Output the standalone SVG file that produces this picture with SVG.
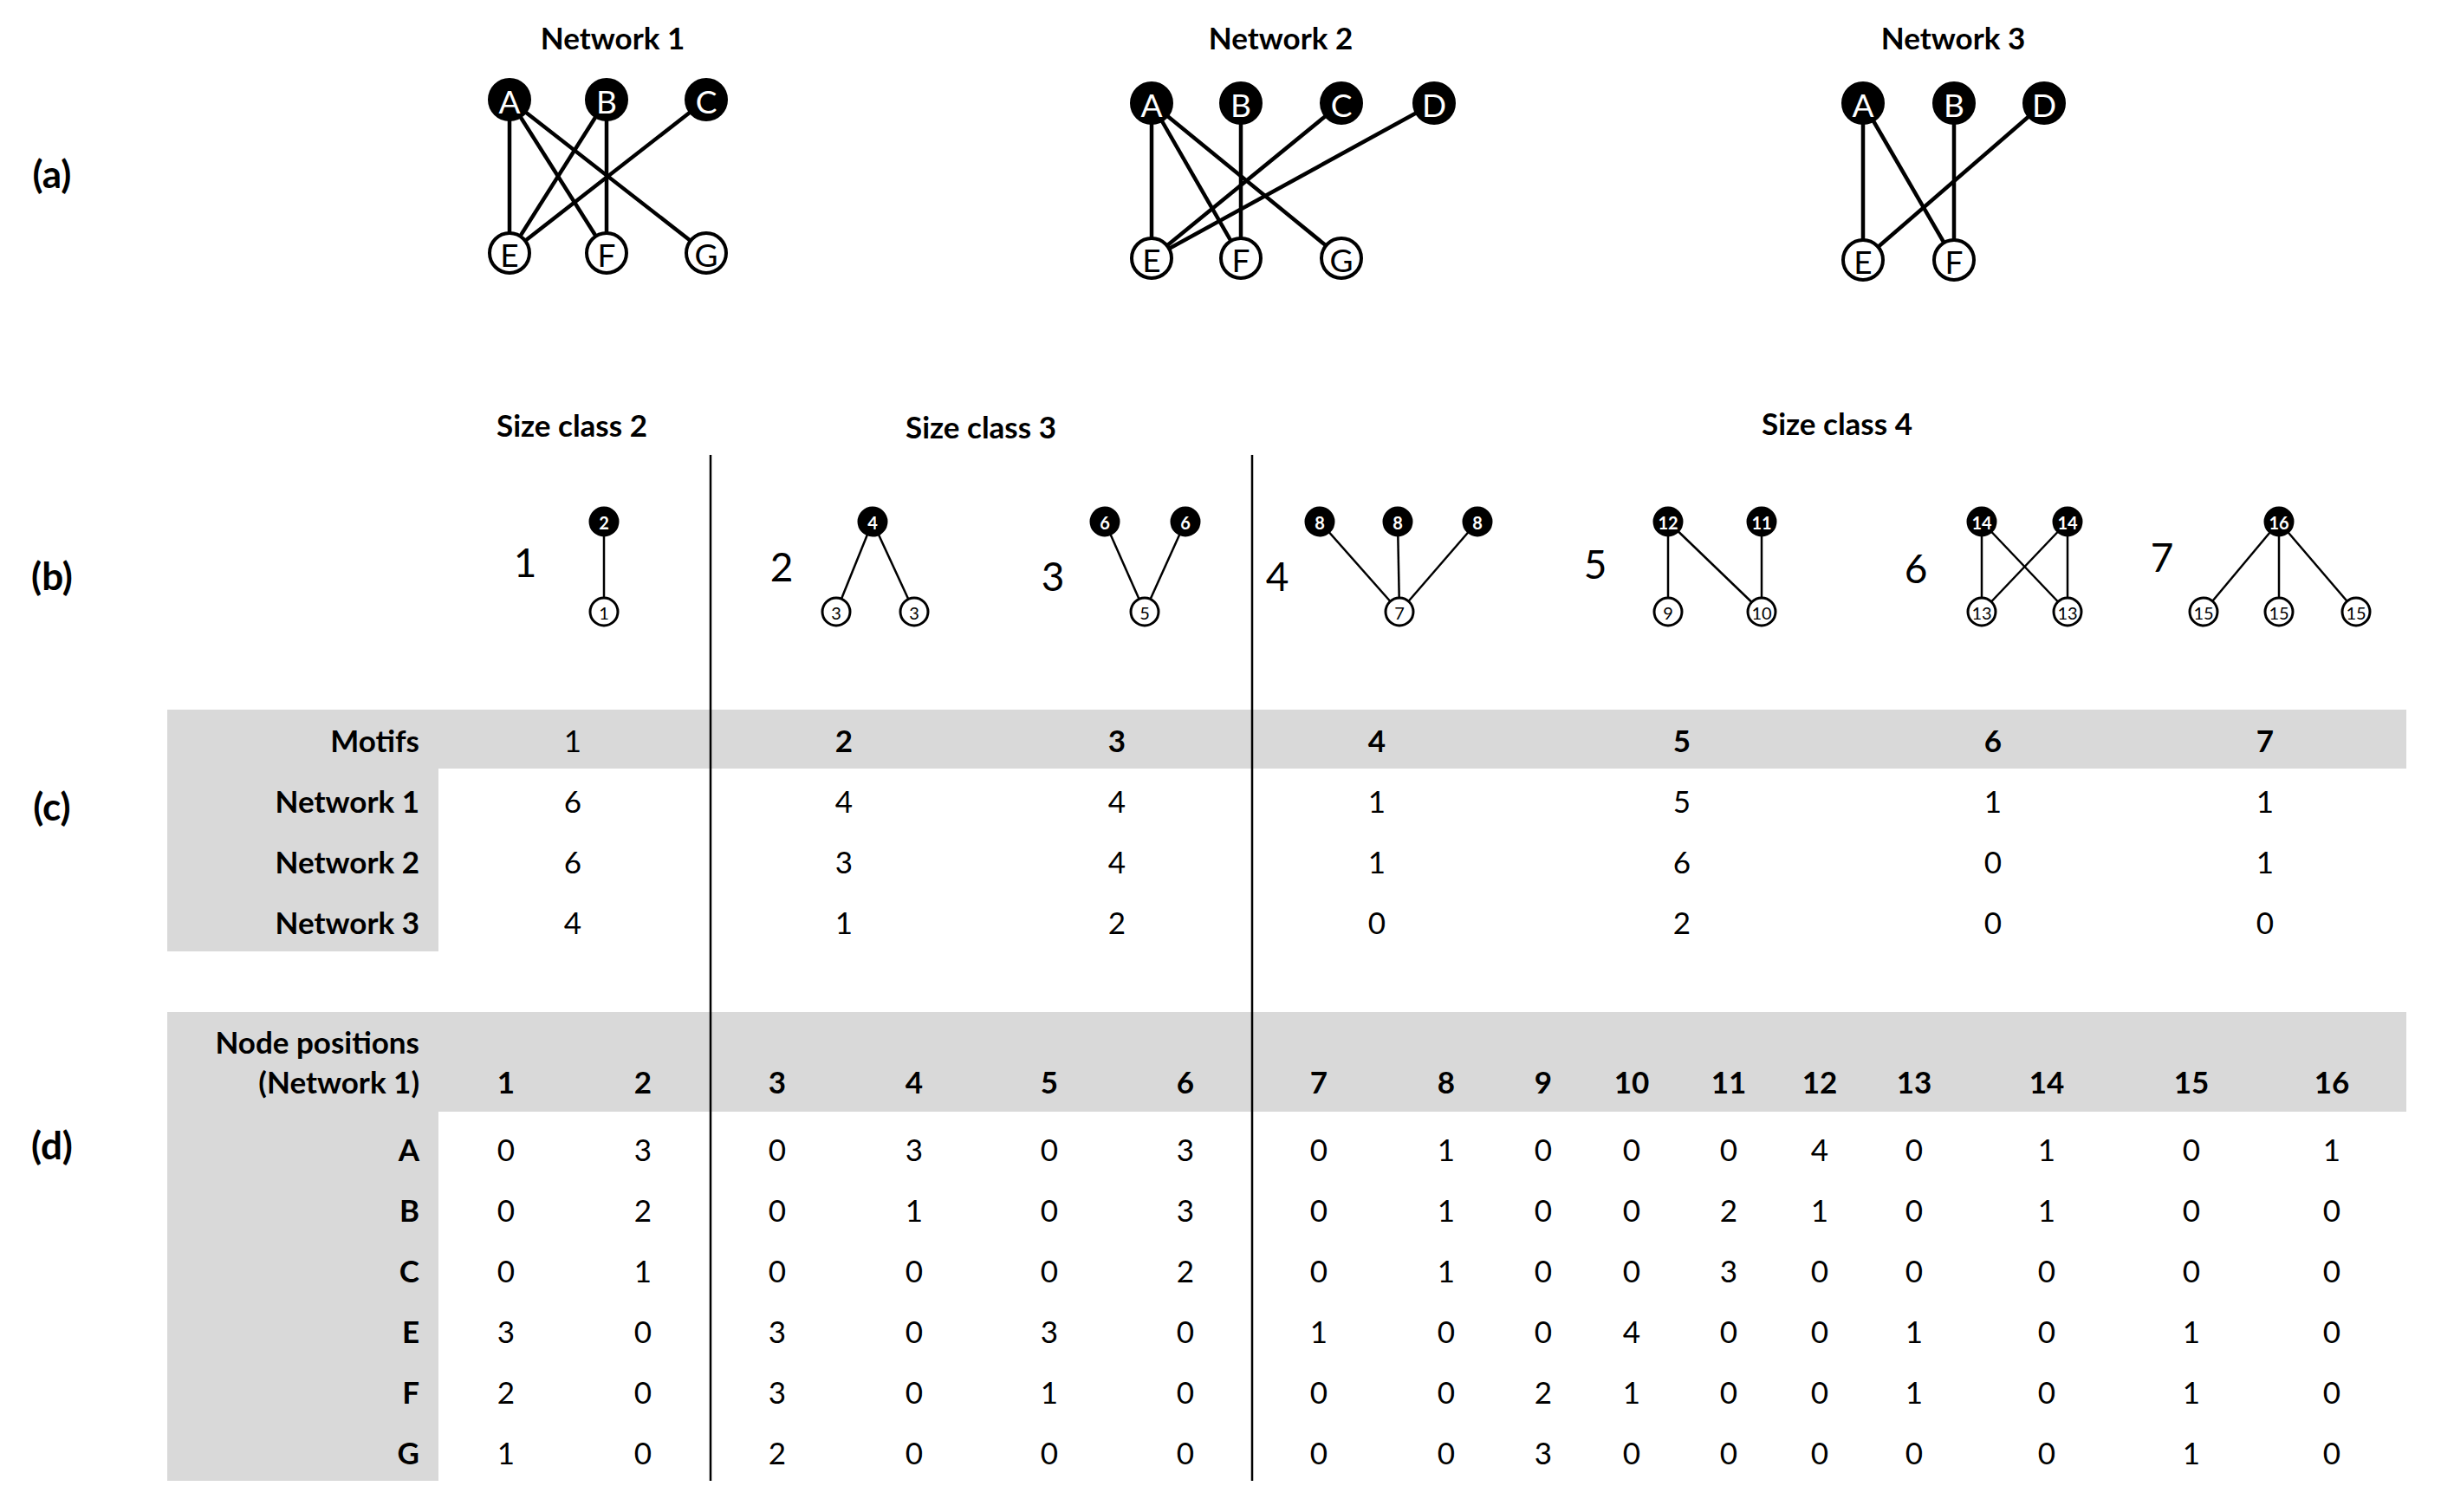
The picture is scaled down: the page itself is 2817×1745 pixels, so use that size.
<svg xmlns="http://www.w3.org/2000/svg" width="2817" height="1745" viewBox="0 0 2817 1745">
<style>
text{font-family:Lato,"Liberation Sans",sans-serif;fill:#000;dominant-baseline:central}
.title{font-size:35px;font-weight:bold;text-anchor:middle}
.sec{font-size:44px;font-weight:bold;text-anchor:middle}
.lbl{font-size:35px;font-weight:bold;text-anchor:end}
.cell{font-size:35px;text-anchor:middle}
.hd{font-size:35px;font-weight:bold;text-anchor:middle}
.mnum{font-size:46px;text-anchor:middle}
.nb{fill:#000;stroke:#000;stroke-width:4}
.nw{fill:#fff;stroke:#000;stroke-width:4}
.lb{fill:#fff;font-size:37px;text-anchor:middle}
.lw{fill:#000;font-size:37px;text-anchor:middle}
.mb{fill:#000;stroke:#000;stroke-width:3}
.mw{fill:#fff;stroke:#000;stroke-width:3}
.sb{fill:#fff;font-size:20px;font-weight:bold;text-anchor:middle}
.sw{fill:#000;font-size:20px;text-anchor:middle}
.e{stroke:#000;stroke-width:4.5;fill:none}
.me{stroke:#000;stroke-width:2.5;fill:none}
.div{stroke:#000;stroke-width:2.5}
.grey{fill:#d9d9d9}
</style>

<!-- section labels -->
<text class="sec" x="60" y="200">(a)</text>
<text class="sec" x="60" y="664">(b)</text>
<text class="sec" x="60" y="930">(c)</text>
<text class="sec" x="60" y="1321">(d)</text>

<!-- network titles -->
<text class="title" x="707" y="43">Network 1</text>
<text class="title" x="1478" y="43">Network 2</text>
<text class="title" x="2254" y="43">Network 3</text>

<!-- size class titles -->
<text class="title" x="660" y="490">Size class 2</text>
<text class="title" x="1132" y="492">Size class 3</text>
<text class="title" x="2120" y="488">Size class 4</text>

<!-- table backgrounds -->
<g id="table-c-bg">
<rect class="grey" x="193" y="819" width="2584" height="68"/>
<rect class="grey" x="193" y="819" width="313" height="279"/>
</g>
<g id="table-d-bg">
<rect class="grey" x="193" y="1168" width="2584" height="115"/>
<rect class="grey" x="193" y="1168" width="313" height="541"/>
</g>

<!-- connectors -->
<g id="connectors">
<!-- Network 1 -->
<line class="e" x1="588" y1="115" x2="588" y2="292"/>
<line class="e" x1="588" y1="115" x2="700" y2="292"/>
<line class="e" x1="588" y1="115" x2="815" y2="292"/>
<line class="e" x1="700" y1="115" x2="588" y2="292"/>
<line class="e" x1="700" y1="115" x2="700" y2="292"/>
<line class="e" x1="815" y1="115" x2="588" y2="292"/>
<!-- Network 2 -->
<line class="e" x1="1329" y1="119" x2="1329" y2="298" stroke-width="3"/>
<line class="e" x1="1329" y1="119" x2="1432" y2="298" stroke-width="3"/>
<line class="e" x1="1329" y1="119" x2="1548" y2="298"/>
<line class="e" x1="1432" y1="119" x2="1432" y2="298" stroke-width="3"/>
<line class="e" x1="1548" y1="119" x2="1329" y2="298"/>
<line class="e" x1="1655" y1="119" x2="1329" y2="298"/>
<!-- Network 3 -->
<line class="e" x1="2150" y1="119" x2="2150" y2="300"/>
<line class="e" x1="2150" y1="119" x2="2255" y2="300" stroke-width="3"/>
<line class="e" x1="2255" y1="119" x2="2255" y2="300"/>
<line class="e" x1="2359" y1="119" x2="2150" y2="300"/>
<!-- Motifs -->
<line class="me" x1="697" y1="602" x2="697" y2="706"/>
<line class="me" x1="1007" y1="602" x2="965" y2="706"/>
<line class="me" x1="1007" y1="602" x2="1055" y2="706"/>
<line class="me" x1="1275" y1="602" x2="1321" y2="706"/>
<line class="me" x1="1368" y1="602" x2="1321" y2="706"/>
<line class="me" x1="1523" y1="602" x2="1615" y2="706"/>
<line class="me" x1="1613" y1="602" x2="1615" y2="706"/>
<line class="me" x1="1705" y1="602" x2="1615" y2="706"/>
<line class="me" x1="1925" y1="602" x2="1925" y2="706" stroke-width="3.5"/>
<line class="me" x1="1925" y1="602" x2="2033" y2="706"/>
<line class="me" x1="2033" y1="602" x2="2033" y2="706"/>
<line class="me" x1="2287" y1="602" x2="2287" y2="706"/>
<line class="me" x1="2287" y1="602" x2="2386" y2="706"/>
<line class="me" x1="2386" y1="602" x2="2287" y2="706"/>
<line class="me" x1="2386" y1="602" x2="2386" y2="706"/>
<line class="me" x1="2630" y1="602" x2="2543" y2="706"/>
<line class="me" x1="2630" y1="602" x2="2630" y2="706"/>
<line class="me" x1="2630" y1="602" x2="2719" y2="706"/>
</g>

<!-- dividers -->
<g id="dividers">
<line class="div" x1="820" y1="525" x2="820" y2="1709"/>
<line class="div" x1="1445" y1="525" x2="1445" y2="1709"/>
</g>

<!-- Network 1 nodes -->
<g id="n1-A"><circle class="nb" cx="588" cy="115" r="23"/><text class="lb" x="588" y="116">A</text></g>
<g id="n1-B"><circle class="nb" cx="700" cy="115" r="23"/><text class="lb" x="700" y="116">B</text></g>
<g id="n1-C"><circle class="nb" cx="815" cy="115" r="23"/><text class="lb" x="815" y="116">C</text></g>
<g id="n1-E"><circle class="nw" cx="588" cy="292" r="23"/><text class="lw" x="588" y="293">E</text></g>
<g id="n1-F"><circle class="nw" cx="700" cy="292" r="23"/><text class="lw" x="700" y="293">F</text></g>
<g id="n1-G"><circle class="nw" cx="815" cy="292" r="23"/><text class="lw" x="815" y="293">G</text></g>

<!-- Network 2 nodes -->
<g id="n2-A"><circle class="nb" cx="1329" cy="119" r="23"/><text class="lb" x="1329" y="120">A</text></g>
<g id="n2-B"><circle class="nb" cx="1432" cy="119" r="23"/><text class="lb" x="1432" y="120">B</text></g>
<g id="n2-C"><circle class="nb" cx="1548" cy="119" r="23"/><text class="lb" x="1548" y="120">C</text></g>
<g id="n2-D"><circle class="nb" cx="1655" cy="119" r="23"/><text class="lb" x="1655" y="120">D</text></g>
<g id="n2-E"><circle class="nw" cx="1329" cy="298" r="23"/><text class="lw" x="1329" y="299">E</text></g>
<g id="n2-F"><circle class="nw" cx="1432" cy="298" r="23"/><text class="lw" x="1432" y="299">F</text></g>
<g id="n2-G"><circle class="nw" cx="1548" cy="298" r="23"/><text class="lw" x="1548" y="299">G</text></g>

<!-- Network 3 nodes -->
<g id="n3-A"><circle class="nb" cx="2150" cy="119" r="23"/><text class="lb" x="2150" y="120">A</text></g>
<g id="n3-B"><circle class="nb" cx="2255" cy="119" r="23"/><text class="lb" x="2255" y="120">B</text></g>
<g id="n3-D"><circle class="nb" cx="2359" cy="119" r="23"/><text class="lb" x="2359" y="120">D</text></g>
<g id="n3-E"><circle class="nw" cx="2150" cy="300" r="23"/><text class="lw" x="2150" y="301">E</text></g>
<g id="n3-F"><circle class="nw" cx="2255" cy="300" r="23"/><text class="lw" x="2255" y="301">F</text></g>

<!-- Motif 1 -->
<g id="motif1">
<text class="mnum" x="606" y="648">1</text>
<circle class="mb" cx="697" cy="602" r="16"/><text class="sb" x="697" y="603">2</text>
<circle class="mw" cx="697" cy="706" r="16"/><text class="sw" x="697" y="707">1</text>
</g>
<!-- Motif 2 -->
<g id="motif2">
<text class="mnum" x="902" y="653">2</text>
<circle class="mb" cx="1007" cy="602" r="16"/><text class="sb" x="1007" y="603">4</text>
<circle class="mw" cx="965" cy="706" r="16"/><text class="sw" x="965" y="707">3</text>
<circle class="mw" cx="1055" cy="706" r="16"/><text class="sw" x="1055" y="707">3</text>
</g>
<!-- Motif 3 -->
<g id="motif3">
<text class="mnum" x="1215" y="664">3</text>
<circle class="mb" cx="1275" cy="602" r="16"/><text class="sb" x="1275" y="603">6</text>
<circle class="mb" cx="1368" cy="602" r="16"/><text class="sb" x="1368" y="603">6</text>
<circle class="mw" cx="1321" cy="706" r="16"/><text class="sw" x="1321" y="707">5</text>
</g>
<!-- Motif 4 -->
<g id="motif4">
<text class="mnum" x="1474" y="664">4</text>
<circle class="mb" cx="1523" cy="602" r="16"/><text class="sb" x="1523" y="603">8</text>
<circle class="mb" cx="1613" cy="602" r="16"/><text class="sb" x="1613" y="603">8</text>
<circle class="mb" cx="1705" cy="602" r="16"/><text class="sb" x="1705" y="603">8</text>
<circle class="mw" cx="1615" cy="706" r="16"/><text class="sw" x="1615" y="707">7</text>
</g>
<!-- Motif 5 -->
<g id="motif5">
<text class="mnum" x="1841" y="650">5</text>
<circle class="mb" cx="1925" cy="602" r="16"/><text class="sb" x="1925" y="603">12</text>
<circle class="mb" cx="2033" cy="602" r="16"/><text class="sb" x="2033" y="603">11</text>
<circle class="mw" cx="1925" cy="706" r="16"/><text class="sw" x="1925" y="707">9</text>
<circle class="mw" cx="2033" cy="706" r="16"/><text class="sw" x="2033" y="707">10</text>
</g>
<!-- Motif 6 -->
<g id="motif6">
<text class="mnum" x="2211" y="655">6</text>
<circle class="mb" cx="2287" cy="602" r="16"/><text class="sb" x="2287" y="603">14</text>
<circle class="mb" cx="2386" cy="602" r="16"/><text class="sb" x="2386" y="603">14</text>
<circle class="mw" cx="2287" cy="706" r="16"/><text class="sw" x="2287" y="707">13</text>
<circle class="mw" cx="2386" cy="706" r="16"/><text class="sw" x="2386" y="707">13</text>
</g>
<!-- Motif 7 -->
<g id="motif7">
<text class="mnum" x="2495" y="642">7</text>
<circle class="mb" cx="2630" cy="602" r="16"/><text class="sb" x="2630" y="603">16</text>
<circle class="mw" cx="2543" cy="706" r="16"/><text class="sw" x="2543" y="707">15</text>
<circle class="mw" cx="2630" cy="706" r="16"/><text class="sw" x="2630" y="707">15</text>
<circle class="mw" cx="2719" cy="706" r="16"/><text class="sw" x="2719" y="707">15</text>
</g>

<!-- Table (c) -->
<g id="table-c">
<text class="lbl" x="484" y="854">Motifs</text>
<text class="lbl" x="484" y="924">Network 1</text>
<text class="lbl" x="484" y="994">Network 2</text>
<text class="lbl" x="484" y="1064">Network 3</text>
<text class="cell" x="661" y="854">1</text>
<text class="hd" x="974" y="854">2</text>
<text class="hd" x="1289" y="854">3</text>
<text class="hd" x="1589" y="854">4</text>
<text class="hd" x="1941" y="854">5</text>
<text class="hd" x="2300" y="854">6</text>
<text class="hd" x="2614" y="854">7</text>
<text class="cell" x="661" y="924">6</text><text class="cell" x="974" y="924">4</text><text class="cell" x="1289" y="924">4</text><text class="cell" x="1589" y="924">1</text><text class="cell" x="1941" y="924">5</text><text class="cell" x="2300" y="924">1</text><text class="cell" x="2614" y="924">1</text>
<text class="cell" x="661" y="994">6</text><text class="cell" x="974" y="994">3</text><text class="cell" x="1289" y="994">4</text><text class="cell" x="1589" y="994">1</text><text class="cell" x="1941" y="994">6</text><text class="cell" x="2300" y="994">0</text><text class="cell" x="2614" y="994">1</text>
<text class="cell" x="661" y="1064">4</text><text class="cell" x="974" y="1064">1</text><text class="cell" x="1289" y="1064">2</text><text class="cell" x="1589" y="1064">0</text><text class="cell" x="1941" y="1064">2</text><text class="cell" x="2300" y="1064">0</text><text class="cell" x="2614" y="1064">0</text>
</g>

<!-- Table (d) -->
<g id="table-d">
<text class="lbl" x="484" y="1202">Node positions</text>
<text class="lbl" x="484" y="1248">(Network 1)</text>
<text class="hd" x="584" y="1248">1</text><text class="hd" x="742" y="1248">2</text><text class="hd" x="897" y="1248">3</text><text class="hd" x="1055" y="1248">4</text><text class="hd" x="1211" y="1248">5</text><text class="hd" x="1368" y="1248">6</text><text class="hd" x="1522" y="1248">7</text><text class="hd" x="1669" y="1248">8</text><text class="hd" x="1781" y="1248">9</text><text class="hd" x="1883" y="1248">10</text><text class="hd" x="1995" y="1248">11</text><text class="hd" x="2100" y="1248">12</text><text class="hd" x="2209" y="1248">13</text><text class="hd" x="2362" y="1248">14</text><text class="hd" x="2529" y="1248">15</text><text class="hd" x="2691" y="1248">16</text>
<text class="lbl" x="484" y="1326">A</text>
<text class="lbl" x="484" y="1396">B</text>
<text class="lbl" x="484" y="1466">C</text>
<text class="lbl" x="484" y="1536">E</text>
<text class="lbl" x="484" y="1606">F</text>
<text class="lbl" x="484" y="1676">G</text>
<!-- A -->
<text class="cell" x="584" y="1326">0</text><text class="cell" x="742" y="1326">3</text><text class="cell" x="897" y="1326">0</text><text class="cell" x="1055" y="1326">3</text><text class="cell" x="1211" y="1326">0</text><text class="cell" x="1368" y="1326">3</text><text class="cell" x="1522" y="1326">0</text><text class="cell" x="1669" y="1326">1</text><text class="cell" x="1781" y="1326">0</text><text class="cell" x="1883" y="1326">0</text><text class="cell" x="1995" y="1326">0</text><text class="cell" x="2100" y="1326">4</text><text class="cell" x="2209" y="1326">0</text><text class="cell" x="2362" y="1326">1</text><text class="cell" x="2529" y="1326">0</text><text class="cell" x="2691" y="1326">1</text>
<!-- B -->
<text class="cell" x="584" y="1396">0</text><text class="cell" x="742" y="1396">2</text><text class="cell" x="897" y="1396">0</text><text class="cell" x="1055" y="1396">1</text><text class="cell" x="1211" y="1396">0</text><text class="cell" x="1368" y="1396">3</text><text class="cell" x="1522" y="1396">0</text><text class="cell" x="1669" y="1396">1</text><text class="cell" x="1781" y="1396">0</text><text class="cell" x="1883" y="1396">0</text><text class="cell" x="1995" y="1396">2</text><text class="cell" x="2100" y="1396">1</text><text class="cell" x="2209" y="1396">0</text><text class="cell" x="2362" y="1396">1</text><text class="cell" x="2529" y="1396">0</text><text class="cell" x="2691" y="1396">0</text>
<!-- C -->
<text class="cell" x="584" y="1466">0</text><text class="cell" x="742" y="1466">1</text><text class="cell" x="897" y="1466">0</text><text class="cell" x="1055" y="1466">0</text><text class="cell" x="1211" y="1466">0</text><text class="cell" x="1368" y="1466">2</text><text class="cell" x="1522" y="1466">0</text><text class="cell" x="1669" y="1466">1</text><text class="cell" x="1781" y="1466">0</text><text class="cell" x="1883" y="1466">0</text><text class="cell" x="1995" y="1466">3</text><text class="cell" x="2100" y="1466">0</text><text class="cell" x="2209" y="1466">0</text><text class="cell" x="2362" y="1466">0</text><text class="cell" x="2529" y="1466">0</text><text class="cell" x="2691" y="1466">0</text>
<!-- E -->
<text class="cell" x="584" y="1536">3</text><text class="cell" x="742" y="1536">0</text><text class="cell" x="897" y="1536">3</text><text class="cell" x="1055" y="1536">0</text><text class="cell" x="1211" y="1536">3</text><text class="cell" x="1368" y="1536">0</text><text class="cell" x="1522" y="1536">1</text><text class="cell" x="1669" y="1536">0</text><text class="cell" x="1781" y="1536">0</text><text class="cell" x="1883" y="1536">4</text><text class="cell" x="1995" y="1536">0</text><text class="cell" x="2100" y="1536">0</text><text class="cell" x="2209" y="1536">1</text><text class="cell" x="2362" y="1536">0</text><text class="cell" x="2529" y="1536">1</text><text class="cell" x="2691" y="1536">0</text>
<!-- F -->
<text class="cell" x="584" y="1606">2</text><text class="cell" x="742" y="1606">0</text><text class="cell" x="897" y="1606">3</text><text class="cell" x="1055" y="1606">0</text><text class="cell" x="1211" y="1606">1</text><text class="cell" x="1368" y="1606">0</text><text class="cell" x="1522" y="1606">0</text><text class="cell" x="1669" y="1606">0</text><text class="cell" x="1781" y="1606">2</text><text class="cell" x="1883" y="1606">1</text><text class="cell" x="1995" y="1606">0</text><text class="cell" x="2100" y="1606">0</text><text class="cell" x="2209" y="1606">1</text><text class="cell" x="2362" y="1606">0</text><text class="cell" x="2529" y="1606">1</text><text class="cell" x="2691" y="1606">0</text>
<!-- G -->
<text class="cell" x="584" y="1676">1</text><text class="cell" x="742" y="1676">0</text><text class="cell" x="897" y="1676">2</text><text class="cell" x="1055" y="1676">0</text><text class="cell" x="1211" y="1676">0</text><text class="cell" x="1368" y="1676">0</text><text class="cell" x="1522" y="1676">0</text><text class="cell" x="1669" y="1676">0</text><text class="cell" x="1781" y="1676">3</text><text class="cell" x="1883" y="1676">0</text><text class="cell" x="1995" y="1676">0</text><text class="cell" x="2100" y="1676">0</text><text class="cell" x="2209" y="1676">0</text><text class="cell" x="2362" y="1676">0</text><text class="cell" x="2529" y="1676">1</text><text class="cell" x="2691" y="1676">0</text>
</g>
</svg>
